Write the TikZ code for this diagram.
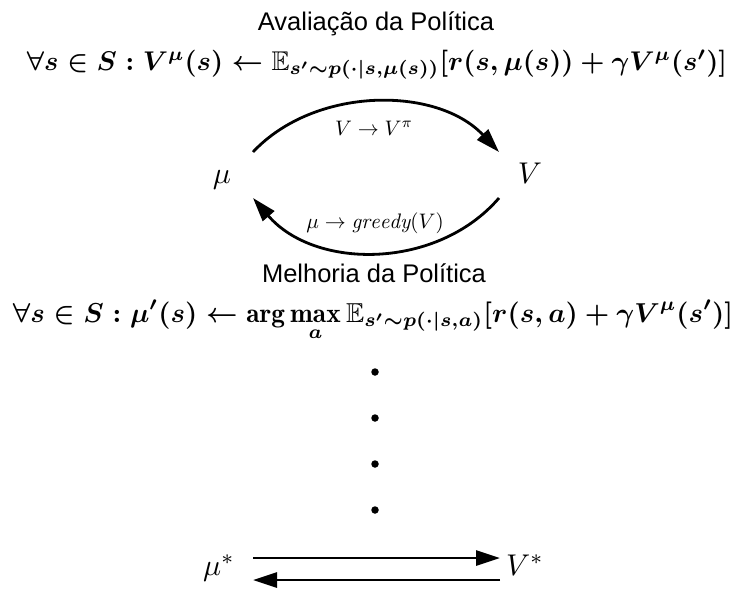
\documentclass[tikz,border=0pt]{standalone}
\usepackage{amsmath,amssymb}
\usepackage{fontspec}
\newfontfamily\titlefont{Liberation Sans}
\usetikzlibrary{arrows.meta}
\tikzset{
  ttl/.style={anchor=base, inner sep=0pt, font=\titlefont\fontsize{25.5}{28}\selectfont},
  eqn/.style={anchor=base, inner sep=0pt},
  big/.style={anchor=base, inner sep=0pt},
  lbl/.style={anchor=base, inner sep=0pt},
  conn/.style={line width=2.8pt, -{Triangle[length=24pt,width=15pt]}},
  dot/.style={circle, fill=black, inner sep=0pt, minimum size=7.5pt}
}
\begin{document}
\begin{tikzpicture}[x=1pt,y=-1pt]
\useasboundingbox (0,0) rectangle (738,590);
\node[ttl] (t1) at (376,30) {Avaliação da Política};
\node[eqn] (f1) at (377,70) {\resizebox{700pt}{!}{\boldmath$\forall s \in S: V^{\mu}(s) \leftarrow \mathbb{E}_{s'\sim p(\cdot|s,\mu(s))}[r(s,\mu(s))+\gamma V^{\mu}(s')]$}};
\node[big] (mu) at (222,183) {\scalebox{3}{$\mu$}};
\node[big] (V) at (530,183) {\scalebox{3}{$V$}};
\node[lbl] (l1) at (374,135) {\scalebox{2.1}{$V\rightarrow V^{\pi}$}};
\node[lbl] (l2) at (375,228) {\scalebox{2.1}{$\mu\rightarrow \mathit{greedy}(V)$}};
\coordinate (a1) at (253,152);
\coordinate (a2) at (499,152);
\coordinate (b1) at (499,198);
\coordinate (b2) at (253,198);
\draw[conn] (a1) .. controls (315,86) and (437,86) .. (a2);
\draw[conn] (b1) .. controls (437,270) and (315,270) .. (b2);
\node[ttl] (t2) at (374,282) {Melhoria da Política};
\node[eqn] (f2) at (373,322) {\resizebox{720pt}{!}{\boldmath$\displaystyle\forall s \in S: \mu'(s) \leftarrow \arg\max_{a} \mathbb{E}_{s'\sim p(\cdot|s,a)}[r(s,a)+\gamma V^{\mu}(s')]$}};
\node[dot] (d1) at (375,372) {};
\node[dot] (d2) at (375,418) {};
\node[dot] (d3) at (375,464) {};
\node[dot] (d4) at (375,510) {};
\node[big] (ms) at (219,575) {\scalebox{3}{$\mu^{*}$}};
\node[big] (Vs) at (525,575) {\scalebox{3}{$V^{*}$}};
\coordinate (c1) at (253,558);
\coordinate (c2) at (500,558);
\coordinate (e1) at (500,580);
\coordinate (e2) at (253,580);
\draw[conn] (c1) -- (c2);
\draw[conn] (e1) -- (e2);
\end{tikzpicture}
\end{document}
